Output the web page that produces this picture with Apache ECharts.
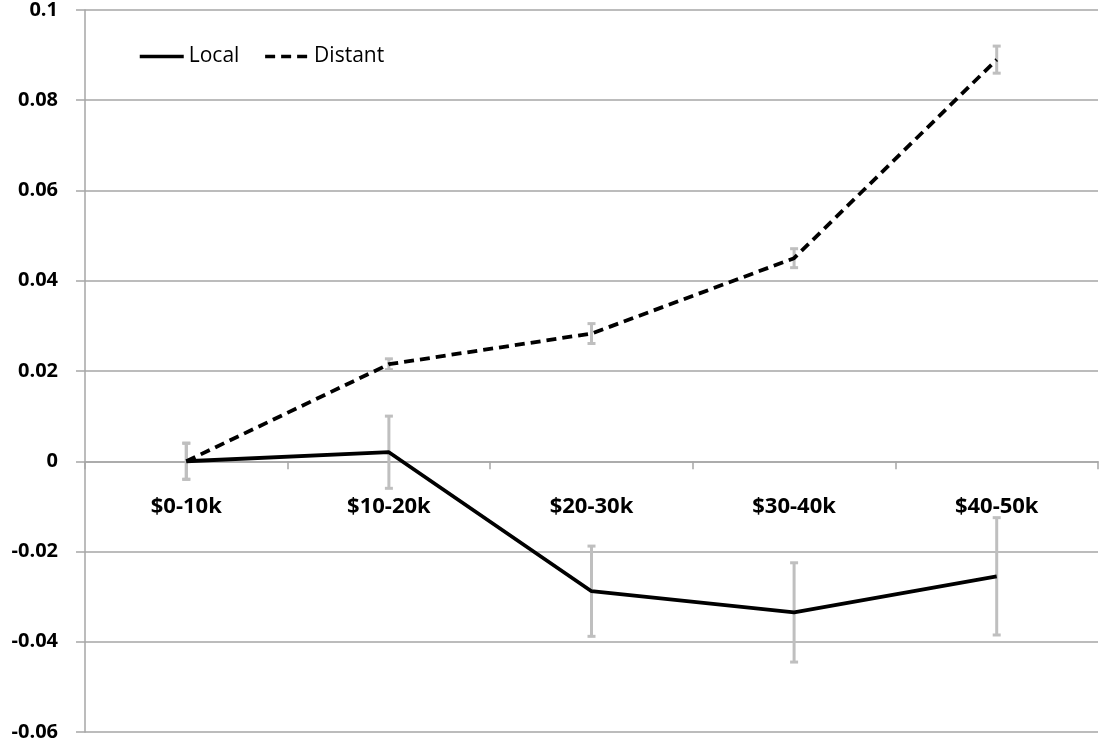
<!DOCTYPE html>
<html>
<head>
<meta charset="utf-8">
<script src="https://cdn.jsdelivr.net/npm/echarts@6/dist/echarts.min.js"></script>
<style>
  html, body { margin: 0; padding: 0; background: #fff; }
  #main { width: 1099px; height: 748px; }
</style>
</head>
<body>
<div id="main"></div>
<script>
// categories
var categories = ['$0-10k', '$10-20k', '$20-30k', '$30-40k', '$40-50k'];
// series values
var localValues = [0, 0.002, -0.0288, -0.0335, -0.0255];
var distantValues = [0, 0.0215, 0.0283, 0.045, 0.089];
// error bar half widths
var localErr = [0.004, 0.008, 0.010, 0.011, 0.013];
var distantErr = [0.004, 0.0012, 0.0022, 0.0021, 0.003];
// y axis range
var yMin = -0.06, yMax = 0.1, yStep = 0.02;

var gridTop = 10, gridBottom = 16, chartH = 748;

// 误差线数据 [index, low, high]
function errData(vals, errs) {
    var out = [];
    vals.forEach(function (v, i) {
        out.push([i, v - errs[i], v + errs[i]]);
    });
    return out;
}

function renderErrorBar(params, api) {
    var x = api.value(0);
    var top = api.coord([x, api.value(2)]);
    var bot = api.coord([x, api.value(1)]);
    var cap = 4;
    var style = { stroke: '#bfbfbf', lineWidth: 3, fill: null };
    return {
        type: 'group',
        children: [
            { type: 'line', shape: { x1: top[0], y1: top[1], x2: bot[0], y2: bot[1] }, style: style },
            { type: 'line', shape: { x1: top[0] - cap, y1: top[1], x2: top[0] + cap, y2: top[1] }, style: style },
            { type: 'line', shape: { x1: bot[0] - cap, y1: bot[1], x2: bot[0] + cap, y2: bot[1] }, style: style }
        ]
    };
}

// x轴放在0的位置 (offset from grid bottom)
var gridH = chartH - gridTop - gridBottom;
var zeroOffset = -(0 - yMin) / (yMax - yMin) * gridH;

var myChart = echarts.init(document.getElementById('main'));
var option = {
    animation: false,
    textStyle: { fontFamily: 'Open Sans' },
    grid: { left: 85, right: 1, top: gridTop, bottom: gridBottom, containLabel: false, outerBoundsMode: 'none' },
    legend: {
        data: ['Local', 'Distant'],
        left: 133,
        top: 41,
        itemWidth: 44,
        itemHeight: 14,
        itemGap: 24,
        itemStyle: { opacity: 0 },
        lineStyle: { width: 3.5 },
        textStyle: { fontSize: 21, color: '#000', fontFamily: 'Open Sans' }
    },
    xAxis: {
        type: 'category',
        data: categories,
        position: 'bottom',
        offset: zeroOffset,
        axisLine: { onZero: false, lineStyle: { color: '#a6a6a6', width: 1.5 } },
        axisTick: { show: true, length: 8, lineStyle: { color: '#a6a6a6', width: 1.5 } },
        axisLabel: { margin: 34, fontSize: 22, fontWeight: 'bold', color: '#000' },
        splitLine: { show: false }
    },
    yAxis: {
        type: 'value',
        min: yMin,
        max: yMax,
        interval: yStep,
        axisLine: { show: true, lineStyle: { color: '#a6a6a6', width: 1.5 } },
        axisTick: { show: true, length: 9, lineStyle: { color: '#a6a6a6', width: 1.5 } },
        axisLabel: {
            margin: 27,
            fontSize: 20,
            fontWeight: 'bold',
            color: '#000',
            formatter: function (v) { return String(Math.round(v * 100) / 100); }
        },
        splitLine: { show: true, lineStyle: { color: '#a6a6a6', width: 1.5 } }
    },
    series: [
        {
            name: 'LocalErr',
            type: 'custom',
            renderItem: renderErrorBar,
            encode: { x: 0, y: [1, 2] },
            data: errData(localValues, localErr),
            z: 1
        },
        {
            name: 'DistantErr',
            type: 'custom',
            renderItem: renderErrorBar,
            encode: { x: 0, y: [1, 2] },
            data: errData(distantValues, distantErr),
            z: 1
        },
        {
            name: 'Local',
            type: 'line',
            data: localValues,
            symbol: 'none',
            lineStyle: { color: '#000', width: 3.8 },
            itemStyle: { color: '#000' },
            z: 3
        },
        {
            name: 'Distant',
            type: 'line',
            data: distantValues,
            symbol: 'none',
            lineStyle: { color: '#000', width: 3.8, type: [10, 6] },
            itemStyle: { color: '#000' },
            z: 3
        }
    ]
};
myChart.setOption(option);
</script>
</body>
</html>
